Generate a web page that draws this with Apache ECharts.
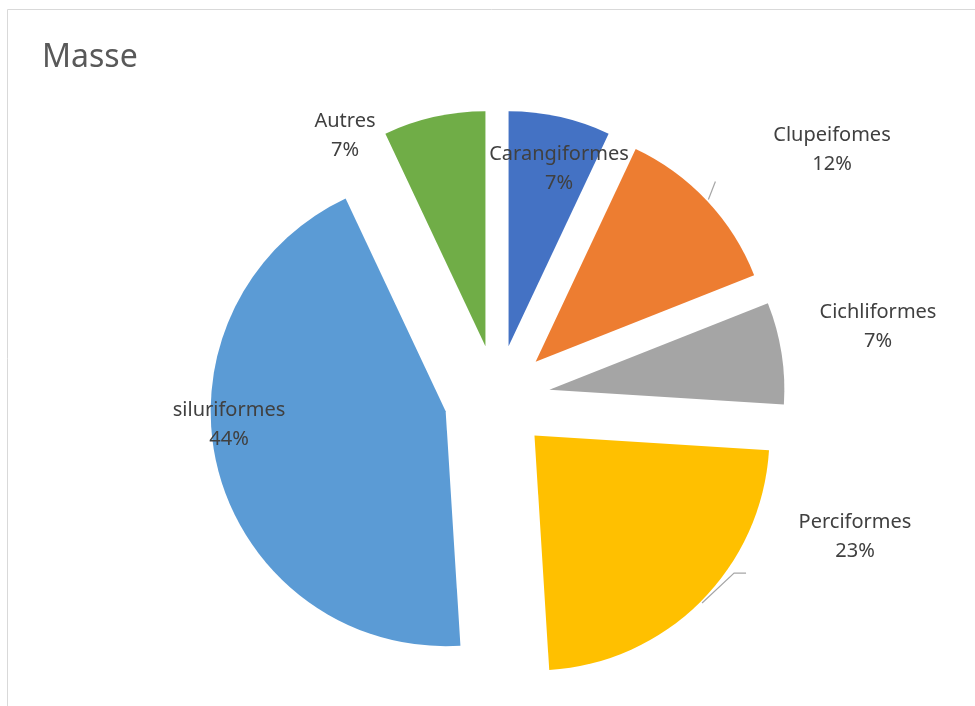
<!DOCTYPE html>
<html>
<head>
<meta charset="utf-8">
<script src="https://cdn.jsdelivr.net/npm/echarts@6/dist/echarts.min.js"></script>
<style>
  html, body { margin: 0; padding: 0; background: #fff; }
  #chart { width: 975px; height: 706px; }
</style>
</head>
<body>
<div id="chart"></div>
<script>
// données
const categories = ['Carangiformes', 'Clupeifomes', 'Cichliformes', 'Perciformes', 'siluriformes', 'Autres']
const values = [7, 12, 7, 23, 44, 7]
const colors = ['#4472C4', '#ED7D31', '#A5A5A5', '#FFC000', '#5B9BD5', '#70AD47']

// position des étiquettes (centre du texte), comme dans Excel
const labelPos = [[559, 169], [832, 150], [878, 327], [855, 537], [229, 425], [345, 136]]
// traits de rappel : décalages depuis le bord du secteur éclaté
const leader = [null, [[7, -18]], null, [[32, -30], [44, -30]], null, null]

const pieCenter = [497, 398]
const pieRadius = 235
const explode = 53

const total = values.reduce((a, b) => a + b, 0)

// angle médian de chaque secteur (sens horaire depuis le haut)
const midAngle = (idx) => {
  let cum = 0
  for (let i = 0; i < idx; i++) cum += values[i]
  return (cum + values[idx] / 2) / total * 2 * Math.PI
}

const chart = echarts.init(document.getElementById('chart'))

const option = {
  animation: false,
  title: {
    text: 'Masse',
    left: 37,
    top: 37,
    textStyle: {
      fontFamily: 'Noto Sans',
      fontSize: 32,
      fontWeight: 'normal',
      color: '#595959'
    }
  },
  graphic: [
    {
      type: 'rect',
      shape: { x: 7.5, y: 9.5, width: 1200, height: 1200 },
      style: { fill: 'none', stroke: '#d9d9d9', lineWidth: 1 },
      silent: true
    }
  ],
  series: [
    // secteurs éclatés
    {
      type: 'pie',
      center: pieCenter,
      radius: pieRadius,
      startAngle: 90,
      clockwise: true,
      selectedMode: 'multiple',
      selectedOffset: explode,
      emphasis: { disabled: true },
      label: { show: false },
      labelLine: { show: false },
      data: categories.map((name, i) => ({
        name: name,
        value: values[i],
        selected: true,
        itemStyle: { color: colors[i] }
      }))
    },
    // étiquettes
    {
      type: 'pie',
      center: pieCenter,
      radius: pieRadius,
      startAngle: 90,
      clockwise: true,
      silent: true,
      z: 3,
      itemStyle: { color: 'rgba(0,0,0,0)' },
      emphasis: { disabled: true },
      label: {
        show: true,
        position: 'outside',
        formatter: '{b}\n{d}%',
        fontFamily: 'Noto Sans',
        fontSize: 20,
        lineHeight: 29,
        color: '#404040',
        align: 'center'
      },
      labelLine: {
        show: true,
        length: 8,
        length2: 12,
        lineStyle: { color: '#a6a6a6', width: 1.2 }
      },
      labelLayout: (params) => {
        const i = params.dataIndex
        const p = labelPos[i]
        const out = { x: p[0], y: p[1], align: 'center', verticalAlign: 'middle' }
        if (leader[i]) {
          const a = midAngle(i)
          const r = pieRadius + explode + 2
          const sx = pieCenter[0] + Math.sin(a) * r
          const sy = pieCenter[1] - Math.cos(a) * r
          out.labelLinePoints = [[sx, sy]].concat(leader[i].map(d => [sx + d[0], sy + d[1]]))
        }
        return out
      },
      data: categories.map((name, i) => ({
        name: name,
        value: values[i],
        labelLine: { show: !!leader[i] }
      }))
    }
  ]
}

chart.setOption(option)
</script>
</body>
</html>
